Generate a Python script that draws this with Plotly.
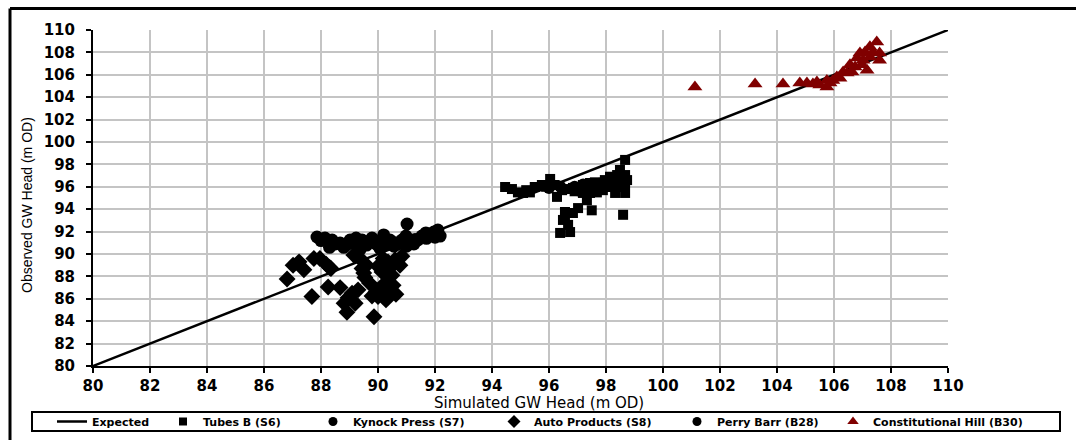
import plotly.graph_objects as go

# ---------------- data ----------------
expected_x = [80, 110]
expected_y = [80, 110]

tubes_x = [94.46, 94.7, 94.91, 95.09, 95.33, 95.5, 95.75, 96.04, 96.2, 96.28, 96.46, 96.63, 96.84,
           97.02, 97.19, 97.44, 97.61, 97.79, 97.96, 98.14, 98.39, 98.67, 98.67, 98.67, 98.67, 98.6,
           97.44, 97.33, 97.5, 97.02, 96.84, 96.56, 96.56, 96.67, 96.74, 96.39, 96.49, 97.89, 98.14,
           98.32, 98.39, 98.56, 97.19, 97.68, 98.49, 98.74, 95.2, 95.9, 96.9, 97.3, 97.9, 98.3]
tubes_y = [95.98, 95.8, 95.5, 95.45, 95.5, 95.98, 96.16, 96.7, 96.16, 95.1, 95.7, 95.8, 95.9,
           95.98, 96.16, 96.34, 96.4, 96.34, 96.6, 96.9, 97.05, 97.05, 98.4, 96.34, 95.45, 93.5,
           95.45, 94.8, 93.9, 94.1, 93.66, 93.75, 93.2, 92.6, 91.96, 91.88, 93.04, 95.7, 95.98,
           95.45, 96.34, 95.98, 95.45, 95.5, 97.5, 96.6, 95.7, 96.0, 95.6, 95.9, 96.1, 96.6]

kynock_x = [96.0, 96.4, 96.9, 97.0, 97.2, 97.5, 97.6, 97.8, 98.1, 98.3, 98.4, 98.6]
kynock_y = [95.9, 96.0, 96.0, 95.7, 96.2, 96.1, 95.8, 96.3, 96.5, 96.2, 96.7, 96.9]

auto_x = [86.81, 87.02, 87.23, 87.40, 87.68, 87.75, 87.96, 88.18, 88.25, 88.35, 88.67, 88.81,
          88.91, 88.95, 89.09, 89.20, 89.30, 89.37, 89.44, 89.54, 89.60, 89.70, 89.79, 89.86,
          89.93, 90.00, 90.07, 90.14, 90.18, 90.25, 90.28, 90.35, 90.42, 90.49, 90.53, 90.60,
          90.63, 90.77, 90.84, 88.3, 89.15, 89.5, 90.0, 90.4]
auto_y = [87.77, 89.0, 89.3, 88.6, 86.2, 89.6, 89.6, 89.1, 87.05, 88.7, 87.0, 85.6,
          84.8, 86.1, 86.5, 85.6, 86.8, 89.6, 88.7, 87.9, 89.0, 87.4, 86.25, 84.4,
          86.6, 86.2, 86.9, 88.4, 89.6, 87.4, 85.9, 89.3, 86.4, 88.1, 87.2, 89.5,
          86.4, 89.0, 89.8, 88.8, 89.9, 88.3, 88.9, 88.7]

perry_x = [87.86, 88.14, 88.39, 88.67, 88.88, 89.02, 89.23, 89.44, 89.65, 89.79, 89.93, 90.07,
           90.28, 90.42, 90.56, 90.70, 90.84, 90.98, 91.02, 91.12, 91.26, 91.40, 91.54, 91.68,
           91.82, 91.96, 92.10, 92.18, 89.37, 90.20, 88.0, 88.5, 89.1, 89.6, 90.1, 90.6,
           91.0, 91.3, 91.7, 92.0, 88.3, 88.8, 89.9]
perry_y = [91.52, 91.43, 91.25, 90.98, 90.80, 91.25, 91.43, 91.25, 91.07, 91.43, 90.90, 90.50,
           90.90, 91.25, 90.70, 90.90, 91.25, 91.60, 92.68, 91.07, 90.90, 91.25, 91.60, 91.88,
           91.70, 91.96, 92.14, 91.60, 90.40, 91.70, 91.2, 90.9, 90.95, 90.8, 91.1, 91.0,
           90.7, 91.3, 91.4, 91.5, 90.6, 90.6, 91.15]

const_x = [101.12, 103.23, 104.21, 104.8, 105.05, 105.26, 105.5, 105.75, 105.86, 106.1, 106.32,
           106.56, 106.81, 106.91, 107.09, 107.26, 107.5, 107.6, 107.6, 107.16, 106.98, 106.63,
           106.21, 105.75, 105.4, 107.26, 107.37, 106.74, 107.02, 105.96, 106.46]
const_y = [104.9, 105.18, 105.18, 105.27, 105.27, 105.18, 105.1, 104.9, 105.27, 105.8, 106.25,
           106.9, 107.5, 107.95, 108.04, 108.5, 108.93, 107.95, 107.3, 106.4, 106.9, 106.25,
           105.7, 105.5, 105.36, 107.6, 108.04, 106.7, 107.3, 105.5, 106.16]

series_names = ["Expected", "Tubes B (S6)", "Kynock Press (S7)", "Auto Products (S8)",
                "Perry Barr (B28)", "Constitutional Hill (B30)"]

tick_vals = list(range(80, 111, 2))

# ---------------- figure ----------------
FONT = "DejaVu Sans, Arial, sans-serif"
RED = "#800000"
fig = go.Figure()

fig.add_trace(go.Scatter(x=expected_x, y=expected_y, mode="lines", showlegend=False,
                         line=dict(color="black", width=2.5)))
fig.add_trace(go.Scatter(x=tubes_x, y=tubes_y, mode="markers", showlegend=False,
                         marker=dict(symbol="square", size=10, color="black")))
fig.add_trace(go.Scatter(x=kynock_x, y=kynock_y, mode="markers", showlegend=False,
                         marker=dict(symbol="circle", size=12, color="black")))
fig.add_trace(go.Scatter(x=auto_x, y=auto_y, mode="markers", showlegend=False,
                         marker=dict(symbol="diamond", size=13, color="black")))
fig.add_trace(go.Scatter(x=perry_x, y=perry_y, mode="markers", showlegend=False,
                         marker=dict(symbol="circle", size=13, color="black")))
fig.add_trace(go.Scatter(x=const_x, y=const_y, mode="markers", showlegend=False,
                         marker=dict(symbol="triangle-up", size=13, color=RED)))

# legend entries (one small legend per series, laid out in a single boxed row)
legend_styles = [
    dict(mode="lines", line=dict(color="black", width=2.5)),
    dict(mode="markers", marker=dict(symbol="square", size=8, color="black")),
    dict(mode="markers", marker=dict(symbol="circle", size=9, color="black")),
    dict(mode="markers", marker=dict(symbol="diamond", size=10, color="black")),
    dict(mode="markers", marker=dict(symbol="circle", size=9, color="black")),
    dict(mode="markers", marker=dict(symbol="triangle-up", size=10, color=RED)),
]
legend_text_x = [92, 203, 353, 534, 717, 873]   # pixel where each legend text starts

L, R, T, B = 93, 948, 30, 366
W, H = 1076, 442
pw, ph = R - L, B - T

def px(x):
    return (x - L) / pw

def py(y):
    return (B - y) / ph

legend_layouts = {}
for i, (name, style, tx) in enumerate(zip(series_names, legend_styles, legend_text_x)):
    key = "legend" if i == 0 else f"legend{i + 1}"
    fig.add_trace(go.Scatter(x=[None], y=[None], name=name, showlegend=True,
                             legend=key, **style))
    legend_layouts[key] = dict(
        orientation="h", x=px(tx - 40), y=py(421.5), xanchor="left", yanchor="middle",
        bgcolor="rgba(0,0,0,0)", borderwidth=0, itemsizing="trace",
        font=dict(family=FONT, size=11, color="black", weight="bold"),
    )

axis_common = dict(
    range=[80, 110], tickvals=tick_vals, showgrid=True, gridcolor="#c4c4c4", gridwidth=2,
    zeroline=False, showline=True, linecolor="black", linewidth=2,
    ticks="outside", ticklen=5, tickwidth=2, tickcolor="black",
    tickfont=dict(family=FONT, size=15, color="black", weight="bold"),
)
fig.update_xaxes(**axis_common)
fig.update_yaxes(**axis_common, ticklabelstandoff=8)

fig.update_layout(
    width=W, height=H,
    margin=dict(l=L, r=W - R, t=T, b=H - B, pad=0, autoexpand=False),
    paper_bgcolor="white", plot_bgcolor="white",
    font=dict(family=FONT, color="black"),
    showlegend=True,
    annotations=[
        dict(text="Simulated GW Head (m OD)", xref="paper", yref="paper",
             x=px(539), y=py(402.5), xanchor="center", yanchor="middle", showarrow=False,
             font=dict(family=FONT, size=15, color="black")),
        dict(text="Observed GW Head (m OD)", xref="paper", yref="paper",
             x=px(27), y=py(205), xanchor="center", yanchor="middle", showarrow=False,
             textangle=-90,
             font=dict(family="Liberation Sans, Arial", size=14, color="black")),
    ],
    shapes=[
        dict(type="line", xref="paper", yref="paper", x0=px(10), x1=px(1080),
             y0=py(8.5), y1=py(8.5), line=dict(color="black", width=3)),
        dict(type="line", xref="paper", yref="paper", x0=px(10), x1=px(10),
             y0=py(8.5), y1=py(440), line=dict(color="black", width=3)),
        dict(type="rect", xref="paper", yref="paper", x0=px(32), x1=px(1060),
             y0=py(412), y1=py(431), line=dict(color="black", width=2),
             fillcolor="white", layer="below"),
    ],
    **legend_layouts,
)

fig.write_html("out.html")
